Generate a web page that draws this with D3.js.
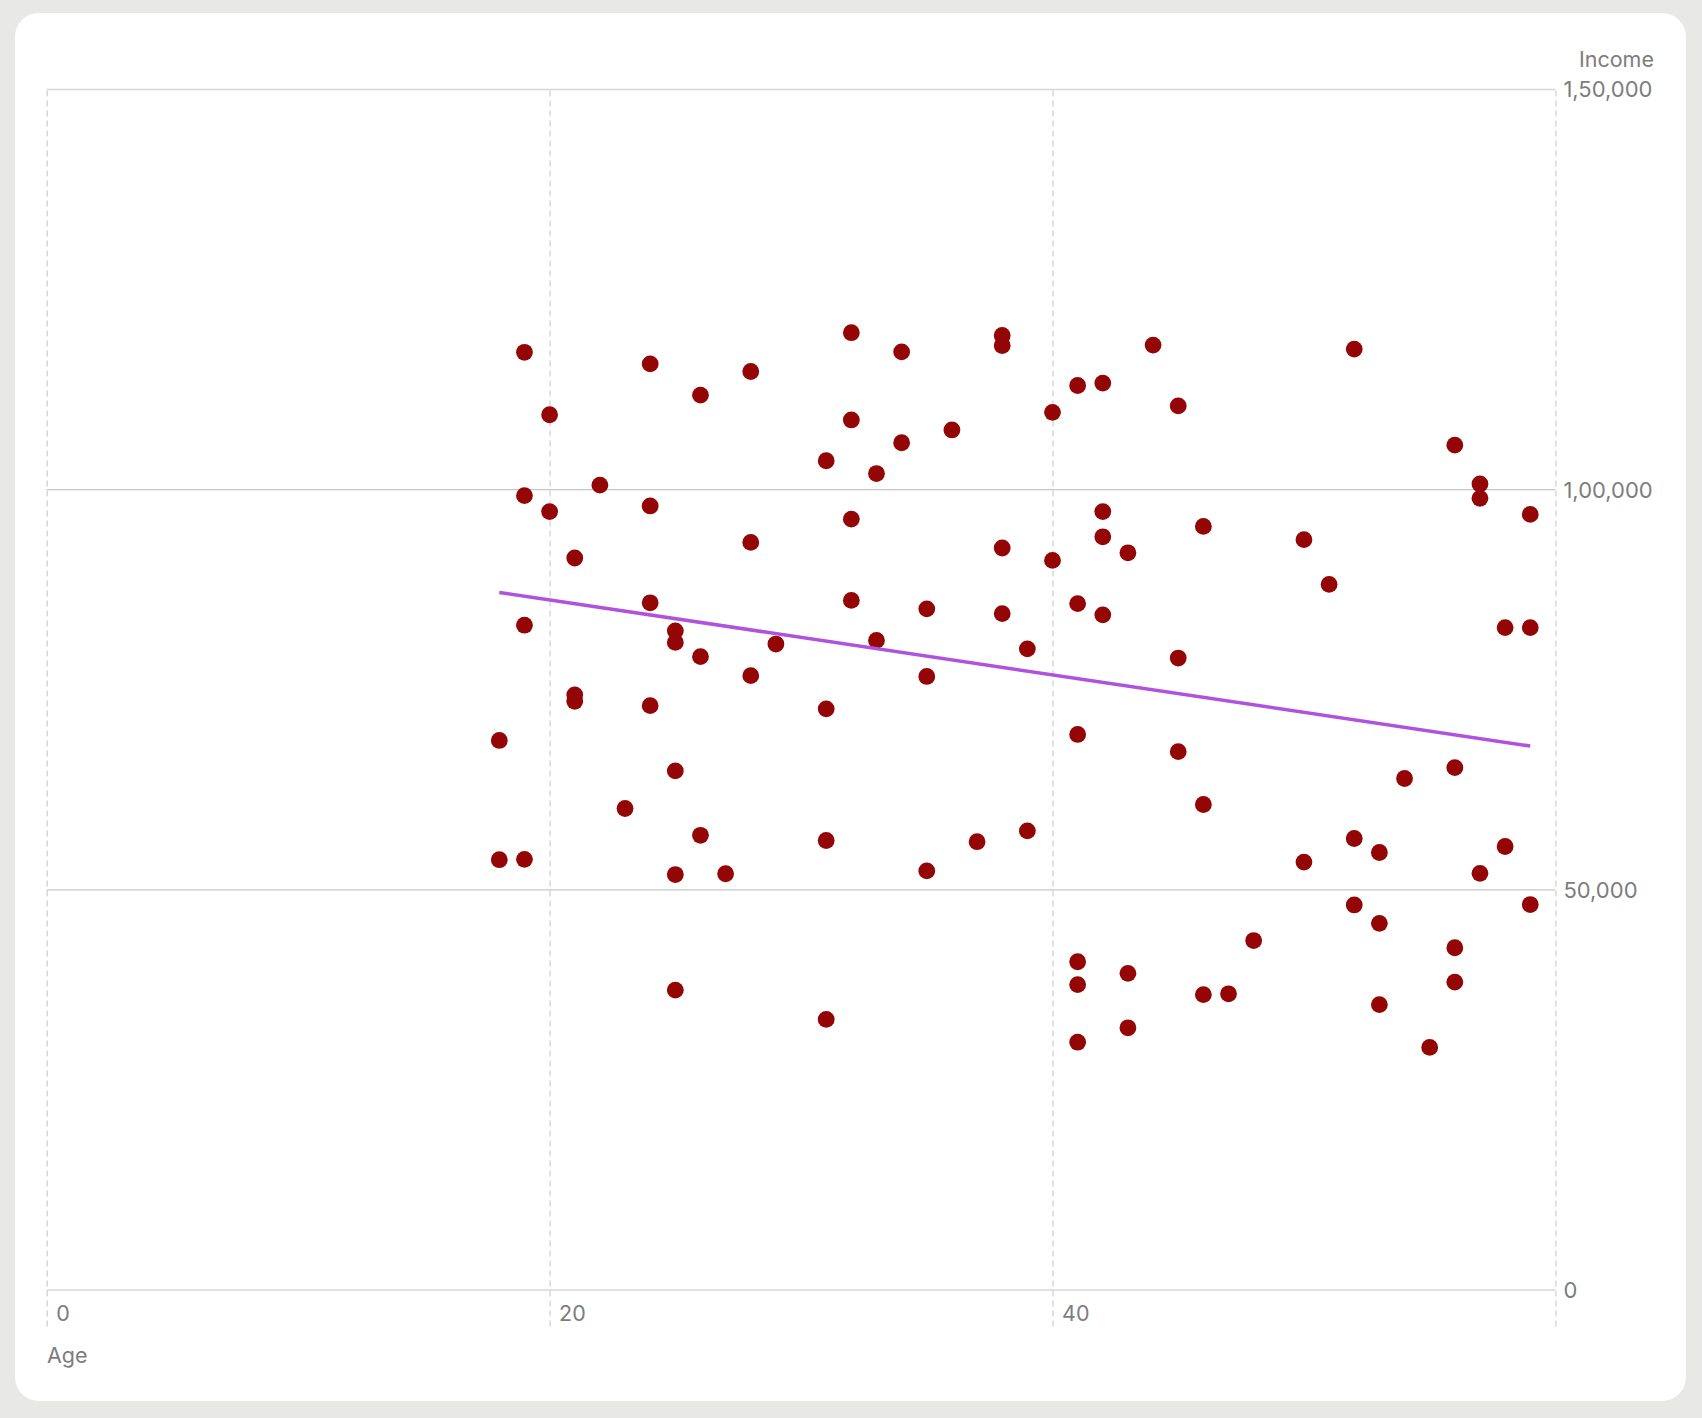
<!DOCTYPE html>
<html>
<head>
<meta charset="utf-8">
<script src="https://cdn.jsdelivr.net/npm/d3@7"></script>
<style>
  body { margin: 0; background: #e8e8e6; }
  svg { display: block; font-family: Inter, "Noto Sans", sans-serif; }
</style>
</head>
<body>
<svg class="chart"></svg>
<script>
// data
var ages = [
  18, 18,
  19, 19, 19, 19,
  20, 20,
  21, 21, 21,
  22,
  23,
  24, 24, 24, 24,
  25, 25, 25, 25, 25,
  26, 26, 26,
  27,
  28, 28, 28,
  29,
  31, 31, 31, 31,
  32, 32, 32, 32,
  33, 33,
  34, 34,
  35, 35, 35,
  36,
  37,
  38, 38, 38, 38,
  39, 39,
  40, 40,
  41, 41, 41, 41, 41, 41,
  42, 42, 42, 42,
  43, 43, 43,
  44,
  45, 45, 45,
  46, 46, 46,
  47,
  48,
  50, 50,
  51,
  52, 52, 52,
  53, 53, 53,
  54,
  55,
  56, 56, 56, 56,
  57, 57, 57,
  58, 58,
  59, 59, 59
];
var incomes = [
  68600, 53700,
  117100, 99200, 83000, 53750,
  109300, 97200,
  91400, 74300, 73500,
  100500,
  60100,
  115650, 97900, 85800, 72950,
  82300, 80850, 64800, 51850, 37400,
  111750, 79070, 56750,
  51950,
  114700, 93350, 76700,
  80650,
  103550, 72550, 56100, 33750,
  119550, 108650, 96250, 86100,
  101950, 81100,
  117150, 105800,
  85050, 76600, 52300,
  107400,
  55950,
  119200, 117950, 92650, 84450,
  80050, 57300,
  109600, 91100,
  112950, 85700, 69350, 40950, 38100, 30900,
  113250, 97200, 94050, 84300,
  92050, 39500, 32700,
  118000,
  110400, 78900, 67200,
  95350, 60600, 36850,
  36950,
  43600,
  93700, 53400,
  88100,
  117500, 56350, 48050,
  54600, 45750, 35600,
  63850,
  30250,
  105500, 65200, 42700, 38400,
  100650, 98850, 52000,
  82700, 55350,
  96850, 82700, 48100
];

// trend line ends
var trendAges = [18, 59];
var trendIncomes = [87100, 67900];

var xTicks = [0, 20, 40, 60];
var yTicks = [0, 50000, 100000, 150000];
var xTitle = "Age", yTitle = "Income";

var W = 1702, H = 1418;
var plot = {left: 46.7, right: 1555.4, top: 89, bottom: 1289.5};

var svg = d3.select(".chart")
    .attr("width", W)
    .attr("height", H);

// card
svg.append("rect")
    .attr("x", 15)
    .attr("y", 13)
    .attr("width", 1671)
    .attr("height", 1388)
    .attr("rx", 24)
    .attr("fill", "#fff");

var x = d3.scaleLinear().domain([0, 60]).range([plot.left, plot.right]);
var y = d3.scaleLinear().domain([0, 150000]).range([plot.bottom, plot.top]);

// indian grouping: 1,50,000
var inFmt = d3.formatLocale({
  decimal: ".", thousands: ",", grouping: [3, 2, 2, 2, 2, 2], currency: ["₹", ""]
}).format(",");

// horizontal grid
var yGrid = svg.append("g")
    .attr("transform", "translate(" + plot.right + ",0)")
    .call(d3.axisRight(y).tickValues(yTicks).tickSize(-(plot.right - plot.left)).tickFormat(""));
yGrid.select(".domain").remove();
yGrid.selectAll("line")
    .attr("stroke", function(d) { return (d === 0 || d === 150000) ? "#d6d6d6" : "#c6c6c6"; })
    .attr("stroke-width", 1.3);

// vertical dashed grid, runs a bit below the axis
var xGridBottom = plot.bottom + 37;
var xGrid = svg.append("g")
    .attr("transform", "translate(0," + xGridBottom + ")")
    .call(d3.axisBottom(x).tickValues(xTicks).tickSize(-(xGridBottom - plot.top)).tickFormat(""));
xGrid.select(".domain").remove();
xGrid.selectAll("line")
    .attr("stroke", "#d2d2d2")
    .attr("stroke-width", 1.3)
    .attr("stroke-dasharray", "6,4");

// x labels
var xAxis = svg.append("g")
    .attr("transform", "translate(0," + plot.bottom + ")")
    .call(d3.axisBottom(x).tickValues(xTicks).tickSize(0)
      .tickFormat(function(d) { return d === 60 ? "" : d; }));
xAxis.select(".domain").remove();
xAxis.selectAll("text")
    .attr("x", 9)
    .attr("y", 31)
    .attr("dy", null)
    .style("text-anchor", "start")
    .attr("fill", "#7d7d7d")
    .style("font-size", "21.5px")
    .style("font-family", "Inter, sans-serif");

// y labels
var yAxis = svg.append("g")
    .attr("transform", "translate(" + plot.right + ",0)")
    .call(d3.axisRight(y).tickValues(yTicks).tickSize(0).tickPadding(8).tickFormat(inFmt));
yAxis.select(".domain").remove();
yAxis.selectAll("text")
    .attr("dy", "0.36em")
    .attr("fill", "#7d7d7d")
    .style("font-size", "22px")
    .style("font-family", "Inter, sans-serif");

// axis titles
svg.append("text")
    .attr("x", 47)
    .attr("y", 1363)
    .attr("fill", "#7d7d7d")
    .style("font-size", "21.5px")
    .text(xTitle);

svg.append("text")
    .attr("x", 1654)
    .attr("y", 67)
    .attr("fill", "#7d7d7d")
    .style("font-size", "21.5px")
    .style("text-anchor", "end")
    .text(yTitle);

// points
svg.append("g")
  .selectAll("circle")
    .data(d3.range(ages.length))
  .enter().append("circle")
    .attr("cx", function(i) { return x(ages[i]); })
    .attr("cy", function(i) { return y(incomes[i]); })
    .attr("r", 8.4)
    .attr("fill", "#940606");

// trend line
var line = d3.line()
    .x(function(i) { return x(trendAges[i]); })
    .y(function(i) { return y(trendIncomes[i]); });

svg.append("path")
    .datum(d3.range(trendAges.length))
    .attr("d", line)
    .attr("fill", "none")
    .attr("stroke", "#af52de")
    .attr("stroke-width", 3.5);
</script>
</body>
</html>
